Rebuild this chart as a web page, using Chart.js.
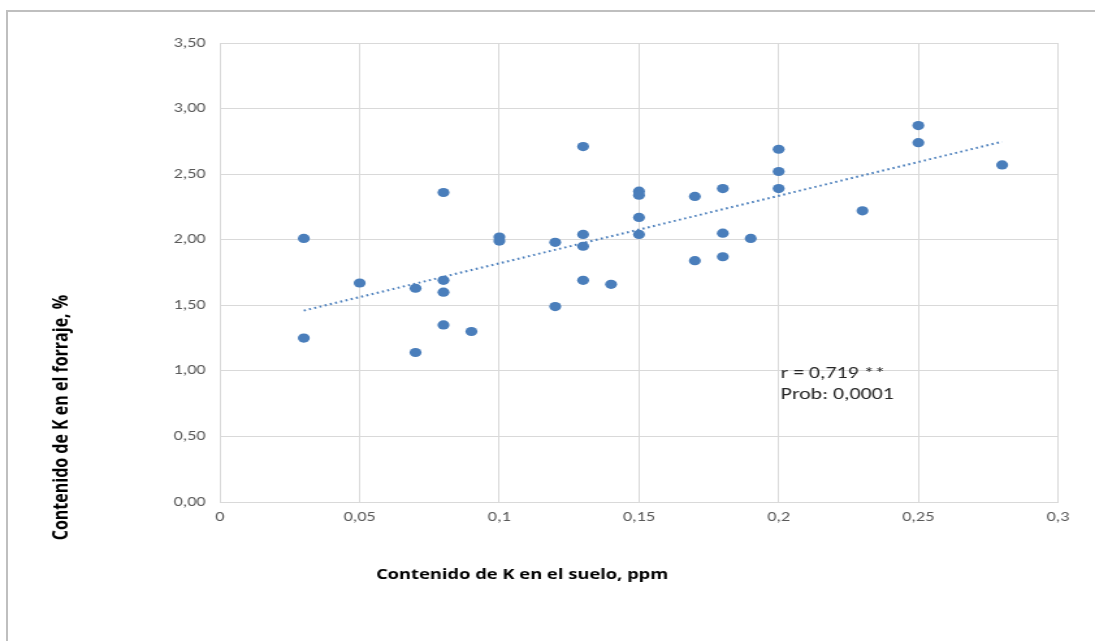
<!DOCTYPE html>
<html>
<head>
<meta charset="utf-8">
<script src="https://cdn.jsdelivr.net/npm/chart.js@4.4.1/dist/chart.umd.min.js"></script>
<style>
  html, body { margin: 0; padding: 0; background: #fff; }
  body { width: 1095px; height: 641px; overflow: hidden; position: relative; }
  #frame {
    position: absolute; left: 6px; top: 10px; right: 0; bottom: 0;
    border-top: 2px solid #bfbfbf; border-left: 2px solid #bfbfbf;
  }
  #wrap {
    position: absolute; left: 0; top: 0; width: 842px; height: 641px;
    transform: scaleX(1.30048); transform-origin: 0 0;
  }
</style>
</head>
<body>
<div id="frame"></div>
<div id="wrap"><canvas id="chart"></canvas></div>
<script>
// Soil K (ppm) vs forage K (%)
const soilK = [0.03, 0.03, 0.05, 0.07, 0.07, 0.08, 0.08, 0.08, 0.08, 0.09,
               0.10, 0.10, 0.12, 0.12, 0.13, 0.13, 0.13, 0.13, 0.14, 0.15,
               0.15, 0.15, 0.15, 0.17, 0.17, 0.18, 0.18, 0.18, 0.19, 0.20,
               0.20, 0.20, 0.23, 0.25, 0.25, 0.28];
const forageK = [2.01, 1.25, 1.67, 1.63, 1.14, 2.36, 1.69, 1.60, 1.35, 1.30,
                 2.02, 1.99, 1.98, 1.49, 2.71, 2.04, 1.95, 1.69, 1.66, 2.37,
                 2.34, 2.17, 2.04, 2.33, 1.84, 2.39, 2.05, 1.87, 2.01, 2.69,
                 2.52, 2.39, 2.22, 2.87, 2.74, 2.57];
const xTickLabels = ['0', '0,05', '0,1', '0,15', '0,2', '0,25', '0,3'];
const yTickLabels = ['0,00', '0,50', '1,00', '1,50', '2,00', '2,50', '3,00', '3,50'];
const statLines = ['r = 0,719 **', 'Prob: 0,0001'];
const xTitle = 'Contenido de K en el suelo, ppm';
const yTitle = 'Contenido de K en el forraje, %';

// Least-squares trend line over the observed soil K range
function linearFit(xs, ys) {
  const n = xs.length;
  const mx = xs.reduce((a, b) => a + b, 0) / n;
  const my = ys.reduce((a, b) => a + b, 0) / n;
  let sxy = 0, sxx = 0;
  for (let i = 0; i < n; i++) { sxy += (xs[i] - mx) * (ys[i] - my); sxx += (xs[i] - mx) ** 2; }
  const b = sxy / sxx;
  return { a: my - b * mx, b };
}
const fit = linearFit(soilK, forageK);
const xMin = Math.min(...soilK), xMax = Math.max(...soilK);
const trend = [xMin, xMax].map(x => ({ x, y: fit.a + fit.b * x }));
const points = soilK.map((x, i) => ({ x, y: forageK[i] }));

const FONT = 'Carlito, Lato, "Open Sans", sans-serif';
const TITLE_FONT = '"Open Sans", Lato, sans-serif';
const BLUE = '#4a7ebb';

// Axis titles and the correlation note
const textPlugin = {
  id: 'chartTexts',
  afterDraw(chart) {
    const ctx = chart.ctx;
    ctx.save();
    ctx.fillStyle = '#000';
    ctx.textAlign = 'center';
    ctx.textBaseline = 'middle';
    ctx.font = 'bold 14.1px ' + TITLE_FONT;
    ctx.fillText(xTitle, 401.5, 575);
    ctx.save();
    ctx.translate(47.7, 417.5);
    ctx.rotate(-Math.PI / 2);
    ctx.font = 'bold 16px ' + TITLE_FONT;
    ctx.fillText(yTitle, 0, 0);
    ctx.restore();
    ctx.font = '16.8px ' + FONT;
    ctx.fillStyle = '#262626';
    ctx.textAlign = 'left';
    const xs = chart.scales.x, ys = chart.scales.y;
    const left = xs.getPixelForValue(0.2) + 1.5;
    ctx.fillText(statLines[0], left, ys.getPixelForValue(0.975));
    ctx.fillText(statLines[1], left, ys.getPixelForValue(0.815));
    ctx.restore();
  }
};

new Chart(document.getElementById('chart'), {
  type: 'scatter',
  data: {
    datasets: [
      {
        type: 'line',
        data: trend,
        borderColor: BLUE,
        borderWidth: 2,
        borderDash: [1.6, 2.6],
        pointRadius: 0,
        fill: false,
        order: 2
      },
      {
        data: points,
        backgroundColor: BLUE,
        borderColor: BLUE,
        pointRadius: 4.6,
        pointHoverRadius: 4.6,
        borderWidth: 0,
        order: 1
      }
    ]
  },
  options: {
    responsive: true,
    maintainAspectRatio: false,
    animation: false,
    events: [],
    layout: { padding: { left: 0, right: 28.45, top: 43, bottom: 99 } },
    plugins: { legend: { display: false }, tooltip: { enabled: false } },
    scales: {
      x: {
        type: 'linear', min: 0, max: 0.3,
        afterFit(scale) { scale.height = 40; },
        afterBuildTicks(scale) { scale.ticks = xTickLabels.map((_, i) => ({ value: i * 0.05 })); },
        ticks: {
          padding: 7,
          color: '#595959',
          font: { family: FONT, size: 14 },
          maxRotation: 0,
          callback: (v, i) => xTickLabels[i]
        },
        grid: { color: '#d9d9d9', lineWidth: 1, drawTicks: false },
        border: { color: '#d9d9d9', width: 1 }
      },
      y: {
        type: 'linear', min: 0, max: 3.5,
        afterFit(scale) { scale.width = 169.17; },
        afterBuildTicks(scale) { scale.ticks = yTickLabels.map((_, i) => ({ value: i * 0.5 })); },
        ticks: {
          padding: 11,
          color: '#595959',
          font: { family: FONT, size: 14 },
          callback: (v, i) => yTickLabels[i]
        },
        grid: { color: '#d9d9d9', lineWidth: 1, drawTicks: false },
        border: { color: '#d9d9d9', width: 1 }
      }
    }
  },
  plugins: [textPlugin]
});
</script>
</body>
</html>
